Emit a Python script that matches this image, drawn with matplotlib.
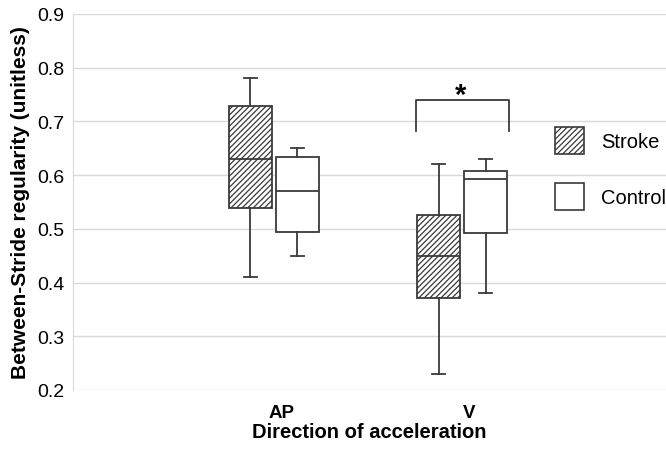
import matplotlib
matplotlib.use("Agg")
import matplotlib.pyplot as plt
from matplotlib.patches import Patch

plt.rcParams['font.family'] = ['Liberation Sans', 'DejaVu Sans']
plt.rcParams['hatch.linewidth'] = 0.9

categories = ["AP", "V"]
groups = ["Stroke", "Control"]
# per group: [AP, V]
whislo = {"Stroke": [0.41, 0.23], "Control": [0.45, 0.38]}
q1 = {"Stroke": [0.539, 0.371], "Control": [0.495, 0.492]}
med = {"Stroke": [0.630, 0.449], "Control": [0.570, 0.592]}
q3 = {"Stroke": [0.728, 0.526], "Control": [0.634, 0.607]}
whishi = {"Stroke": [0.781, 0.620], "Control": [0.650, 0.630]}
yticks = [0.2, 0.3, 0.4, 0.5, 0.6, 0.7, 0.8, 0.9]
sig_bracket = [0.683, 0.739]

fig = plt.figure(figsize=(6.66, 4.52), dpi=100)
ax = fig.add_axes([73/666, 1-391/452, (666-73)/666, (391-15)/452])

edge = "#3a3a3a"
offsets = {"Stroke": -0.125, "Control": 0.125}
hatches = {"Stroke": "//////", "Control": ""}
for g in groups:
    stats = []
    for i in range(len(categories)):
        stats.append(dict(med=med[g][i], q1=q1[g][i], q3=q3[g][i],
                          whislo=whislo[g][i], whishi=whishi[g][i], fliers=[]))
    pos = [i + offsets[g] for i in range(len(categories))]
    ax.bxp(stats, positions=pos, widths=0.232, patch_artist=True,
           showfliers=False, capwidths=0.07,
           boxprops=dict(facecolor="white", edgecolor=edge, linewidth=1.3, hatch=hatches[g]),
           medianprops=dict(color=edge, linewidth=1.3),
           whiskerprops=dict(color=edge, linewidth=1.3),
           capprops=dict(color=edge, linewidth=1.3),
           manage_ticks=False, zorder=3)

# significance bracket
x0, x1 = 1 - 0.245, 1 + 0.25
ax.plot([x0, x0, x1, x1], [sig_bracket[0], sig_bracket[1], sig_bracket[1], sig_bracket[0]],
        color=edge, lw=1.3, zorder=4)
ax.text((x0 + x1) / 2 - 0.012, 0.734, "*", ha="center", va="baseline",
        fontsize=21, fontweight="bold")

ax.set_xlim(-1.069, 2.085)
ax.set_ylim(0.2, 0.9)
ax.set_yticks(yticks)
ax.set_yticklabels([f"{t:.1f}" for t in yticks], fontsize=14)
label_nudge = 0.04
ax.set_xticks([i + label_nudge for i in range(len(categories))])
ax.set_xticklabels(categories, fontsize=13.5, fontweight="bold")
ax.tick_params(axis="both", length=0, pad=6)
ax.tick_params(axis="x", pad=10)
ax.yaxis.grid(True, color="#d9d9d9", lw=1.0, zorder=0)
ax.set_axisbelow(True)
for s in ["top", "right", "bottom"]:
    ax.spines[s].set_visible(False)
ax.spines["left"].set_color("#d9d9d9")
ax.set_ylabel("Between-Stride regularity (unitless)", fontsize=15, fontweight="bold")
ax.yaxis.set_label_coords(-0.072, 0.5)
ax.set_xlabel("Direction of acceleration", fontsize=14.5, fontweight="bold")
ax.xaxis.set_label_coords(0.5, -0.086)

handles = [Patch(facecolor="white", edgecolor=edge, hatch=hatches[g], lw=1.2) for g in groups]
ax.legend(handles, groups, loc="upper left", bbox_to_anchor=(0.799, 0.72),
          frameon=False, fontsize=14.5, handlelength=1.45, handleheight=1.65,
          labelspacing=1.45, handletextpad=0.85, borderaxespad=0)

fig.savefig("out.png", dpi=100)
